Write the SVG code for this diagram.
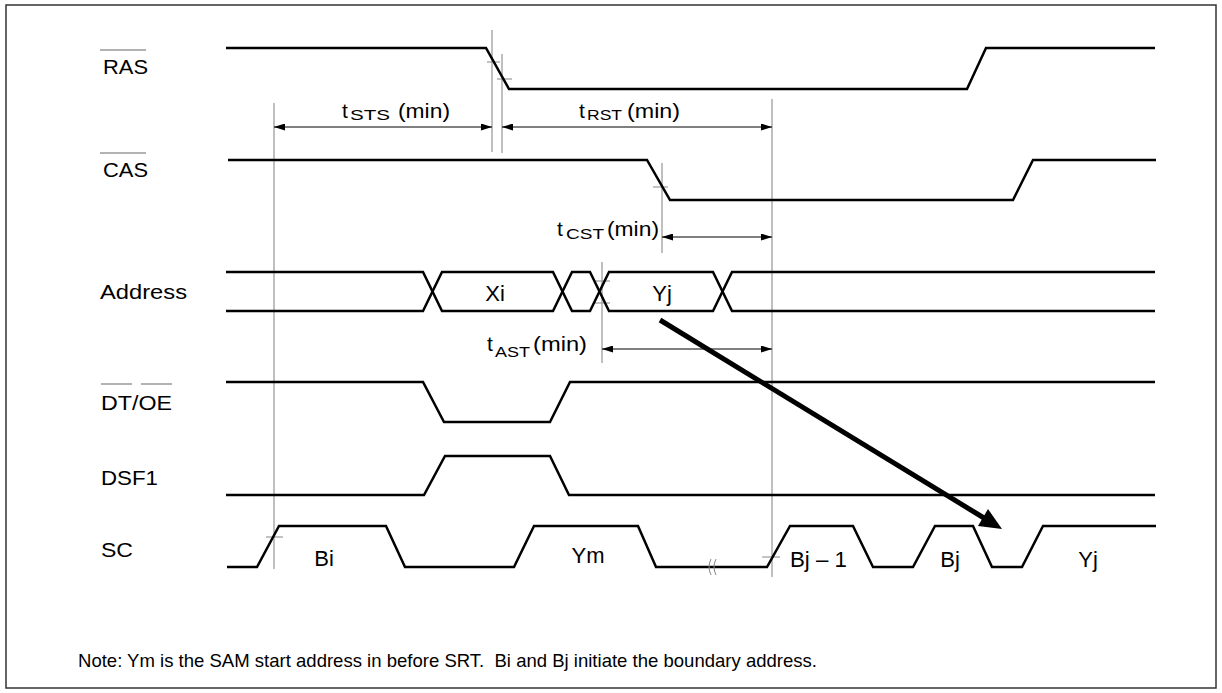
<svg xmlns="http://www.w3.org/2000/svg" width="1222" height="693" viewBox="0 0 1222 693">
<style>
.sig{fill:none;stroke:#000;stroke-width:2.5;stroke-linejoin:miter}
.ref{fill:none;stroke:#808080;stroke-width:1}
.tick{fill:none;stroke:#999;stroke-width:1.2}
.ovl{fill:none;stroke:#999;stroke-width:1.5}
.dim{fill:none;stroke:#000;stroke-width:1;marker-start:url(#ah);marker-end:url(#ah)}
.t{font-family:"Liberation Sans",Arial,Helvetica,sans-serif;font-size:21px;fill:#000}
.w{font-size:22px}
.s{font-family:"Liberation Sans",Arial,Helvetica,sans-serif;font-size:15px;fill:#000}
.m{text-anchor:middle}
</style>
<defs>
<marker id="ah" viewBox="0 0 11 7" refX="11" refY="3.5" markerWidth="11" markerHeight="7" markerUnits="userSpaceOnUse" orient="auto-start-reverse">
<path d="M0,0 L11,3.5 L0,7 z" fill="#000"/>
</marker>
</defs>
<rect x="6" y="5" width="1210" height="683" fill="#fff" stroke="#333" stroke-width="1.5"/>

<g id="labels">
<text class="t" x="103" y="74" textLength="45" lengthAdjust="spacingAndGlyphs">RAS</text>
<line class="ovl" x1="100" y1="50" x2="146" y2="50"/>
<text class="t" x="103" y="177" textLength="45" lengthAdjust="spacingAndGlyphs">CAS</text>
<line class="ovl" x1="100" y1="153" x2="146" y2="153"/>
<text class="t" x="100" y="299" textLength="87" lengthAdjust="spacingAndGlyphs">Address</text>
<text class="t" x="101" y="410" textLength="71" lengthAdjust="spacingAndGlyphs">DT/OE</text>
<line class="ovl" x1="101" y1="384" x2="132" y2="384"/>
<line class="ovl" x1="141" y1="384" x2="172" y2="384"/>
<text class="t" x="101" y="485" textLength="57" lengthAdjust="spacingAndGlyphs">DSF1</text>
<text class="t" x="101" y="557" textLength="32" lengthAdjust="spacingAndGlyphs">SC</text>
</g>

<g id="reflines">
<line class="ref" x1="274" y1="103" x2="274" y2="569"/>
<line class="ref" x1="492" y1="30" x2="492" y2="152"/>
<line class="ref" x1="502" y1="54" x2="502" y2="153"/>
<line class="ref" x1="662" y1="163" x2="662" y2="253"/>
<line class="ref" x1="602" y1="262" x2="602" y2="363"/>
<line class="ref" x1="772" y1="99" x2="772" y2="577"/>
<line class="tick" x1="487" y1="62" x2="500" y2="62"/>
<line class="tick" x1="497" y1="79" x2="512" y2="79"/>
<line class="tick" x1="653" y1="187" x2="668" y2="187"/>
<line class="tick" x1="595" y1="281" x2="610" y2="281"/>
<line class="tick" x1="595" y1="303" x2="610" y2="303"/>
<line class="tick" x1="266" y1="537" x2="283" y2="537"/>
<line class="tick" x1="762" y1="557" x2="780" y2="557"/>
</g>

<g id="RAS"><path class="sig" d="M226,48 H486 L509,89 H967 L986,48 H1155"/></g>
<g id="CAS"><path class="sig" d="M228,160 H647 L670,200 H1013 L1033,160 H1156"/></g>
<g id="Address">
<path class="sig" d="M226,272 H423 L442,311 H553 L572,272 H590 L609,311 H713 L732,272 H1155"/>
<path class="sig" d="M226,311 H423 L442,272 H553 L572,311 H590 L609,272 H713 L732,311 H1155"/>
<text class="t w m" x="495" y="301">Xi</text>
<text class="t w m" x="662" y="301">Yj</text>
</g>
<g id="DTOE"><path class="sig" d="M226,382 H423 L444,422 H550 L570,382 H1155"/></g>
<g id="DSF1"><path class="sig" d="M226,495 H424 L445,456 H550 L569,495 H1155"/></g>
<g id="SC">
<path class="sig" d="M227,567 H257 L279,526 H386 L405,567 H514 L534,526 H638 L656,567 H767 L790,526 H853 L873,567 H913 L935,526 H973 L992,567 H1022 L1043,526 H1156"/>
<path d="M711,559 q-4,8 0,16 M716,559 q-4,8 0,16" fill="none" stroke="#888" stroke-width="1"/>
<text class="t w m" x="324" y="566">Bi</text>
<text class="t w m" x="588" y="563">Ym</text>
<text class="t w" x="790" y="567" textLength="57" lengthAdjust="spacingAndGlyphs">Bj – 1</text>
<text class="t w m" x="950" y="567">Bj</text>
<text class="t w m" x="1088" y="567">Yj</text>
</g>

<g id="connectors">
<line class="dim" x1="274" y1="127" x2="492" y2="127"/>
<line class="dim" x1="502" y1="127" x2="772" y2="127"/>
<line class="dim" x1="662" y1="237" x2="772" y2="237"/>
<line class="dim" x1="602" y1="349" x2="772" y2="349"/>
<line x1="660" y1="320" x2="984" y2="518" stroke="#000" stroke-width="5"/>
<polygon points="1002,529 978,526 988,509" fill="#000"/>
</g>

<g id="timing-labels">
<text class="t" x="342" y="118">t</text>
<text class="s" x="350" y="120" textLength="40" lengthAdjust="spacingAndGlyphs">STS</text>
<text class="t" x="398" y="118" textLength="52" lengthAdjust="spacingAndGlyphs">(min)</text>
<text class="t" x="579" y="118">t</text>
<text class="s" x="587" y="120" textLength="35" lengthAdjust="spacingAndGlyphs">RST</text>
<text class="t" x="627" y="118" textLength="53" lengthAdjust="spacingAndGlyphs">(min)</text>
<text class="t" x="557" y="236">t</text>
<text class="s" x="566" y="239" textLength="38" lengthAdjust="spacingAndGlyphs">CST</text>
<text class="t" x="607" y="236" textLength="52" lengthAdjust="spacingAndGlyphs">(min)</text>
<text class="t" x="487" y="351">t</text>
<text class="s" x="495" y="357" textLength="35" lengthAdjust="spacingAndGlyphs">AST</text>
<text class="t" x="533" y="351" textLength="54" lengthAdjust="spacingAndGlyphs">(min)</text>
</g>

<g id="note">
<text class="t" x="78" y="667" style="font-size:19px;white-space:pre" xml:space="preserve" textLength="739" lengthAdjust="spacingAndGlyphs">Note: Ym is the SAM start address in before SRT.  Bi and Bj initiate the boundary address.</text>
</g>
</svg>
